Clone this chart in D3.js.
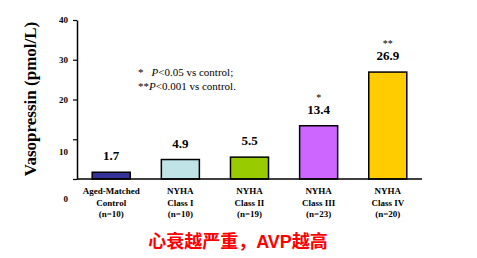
<!DOCTYPE html>
<html lang="en">
<head>
    <meta charset="UTF-8">
    <title>Vasopressin by NYHA class</title>
    <script src="https://d3js.org/d3.v7.min.js"></script>
    <style>
        body { margin: 0; background: #fff; }
        svg text { font-family: "Liberation Serif", "DejaVu Serif", serif; }
        .tick text { font-size: 9px; font-weight: bold; }
    </style>
</head>
<body>
<div id="chart"></div>
<script>
    // data
    const groups = ["Aged-Matched Control", "NYHA Class I", "NYHA Class II", "NYHA Class III", "NYHA Class IV"];
    const labelLines = [
        ["Aged-Matched", "Control", "(n=10)"],
        ["NYHA", "Class I", "(n=10)"],
        ["NYHA", "Class II", "(n=19)"],
        ["NYHA", "Class III", "(n=23)"],
        ["NYHA", "Class IV", "(n=20)"]
    ];
    const values = [1.7, 4.9, 5.5, 13.4, 26.9];
    const stars = ["", "", "", "*", "**"];
    const barColors = ["#333399", "#bfe3e6", "#99cc00", "#cc66ff", "#ffcc00"];
    const yTicks = [0, 10, 20, 30, 40];

    const width = 477, height = 258;

    const svg = d3.select("#chart").append("svg")
        .attr("width", width)
        .attr("height", height);

    const x = d3.scaleBand().domain(groups).range([77, 422]).paddingInner(0.45).paddingOuter(0.22);
    const y = d3.scaleLinear().domain([0, 40]).range([179, 20]);

    // y axis
    const yAxis = svg.append("g")
        .attr("transform", "translate(77,0)")
        .call(d3.axisLeft(y).tickValues(yTicks).tickSize(4).tickSizeOuter(0).tickPadding(5));
    yAxis.select(".domain").attr("stroke", "#000").attr("stroke-width", 1.5);
    yAxis.selectAll(".tick line").attr("stroke", "#000").attr("stroke-width", 1.2);
    yAxis.selectAll(".tick text").attr("fill", "#000")
        // the low labels sit below their ticks in the original
        .attr("dy", d => d === 10 ? "1.7em" : d === 0 ? "2.55em" : "0.32em");

    // bars
    svg.selectAll("rect.bar")
        .data(values)
        .join("rect")
        .attr("class", "bar")
        .attr("x", (d, i) => x(groups[i]))
        .attr("y", d => y(d))
        .attr("width", x.bandwidth())
        .attr("height", d => y(0) - y(d))
        .attr("fill", (d, i) => barColors[i])
        .attr("stroke", "#000")
        .attr("stroke-width", 1.5);

    // baseline
    svg.append("line")
        .attr("x1", 77).attr("x2", 422)
        .attr("y1", y(0)).attr("y2", y(0))
        .attr("stroke", "#000").attr("stroke-width", 1.5);

    // value labels
    svg.selectAll("text.val")
        .data(values)
        .join("text")
        .attr("class", "val")
        .attr("x", (d, i) => x(groups[i]) + x.bandwidth() / 2)
        .attr("y", d => y(d) - 12)
        .attr("text-anchor", "middle")
        .style("font-size", "13px")
        .style("font-weight", "bold")
        .text(d => d);

    svg.selectAll("text.star")
        .data(stars)
        .join("text")
        .attr("class", "star")
        .attr("x", (d, i) => x(groups[i]) + x.bandwidth() / 2)
        .attr("y", (d, i) => y(values[i]) - 25)
        .attr("text-anchor", "middle")
        .style("font-size", "10px")
        .text(d => d);

    // category labels
    const cat = svg.selectAll("text.cat")
        .data(labelLines)
        .join("text")
        .attr("class", "cat")
        .attr("text-anchor", "middle")
        .style("font-size", "9px")
        .style("font-weight", "bold");
    cat.selectAll("tspan")
        .data((d, i) => d.map(t => ({ t, i })))
        .join("tspan")
        .attr("x", d => x(groups[d.i]) + x.bandwidth() / 2)
        .attr("y", (d, j) => 194 + j * 11.5)
        .text(d => d.t);

    // y title
    svg.append("text")
        .attr("transform", "translate(36,99) rotate(-90)")
        .attr("text-anchor", "middle")
        .style("font-size", "17px")
        .style("font-weight", "bold")
        .text("Vasopressin (pmol/L)");

    // significance note
    const note = svg.append("g").style("font-size", "11px");
    const n1 = note.append("text").attr("x", 138).attr("y", 76);
    n1.append("tspan").text("*");
    n1.append("tspan").attr("dx", 8).style("font-style", "italic").text("P");
    n1.append("tspan").text("<0.05 vs control;");
    const n2 = note.append("text").attr("x", 138).attr("y", 90);
    n2.append("tspan").text("**");
    n2.append("tspan").style("font-style", "italic").text("P");
    n2.append("tspan").text("<0.001 vs control.");

    // caption
    svg.append("text")
        .attr("x", 238).attr("y", 248)
        .attr("text-anchor", "middle")
        .attr("fill", "#ff0000")
        .style("font-family", "'Liberation Sans', 'Noto Sans CJK SC', sans-serif")
        .style("font-size", "18px")
        .style("font-weight", "bold")
        .text("心衰越严重，AVP越高");
</script>
</body>
</html>
